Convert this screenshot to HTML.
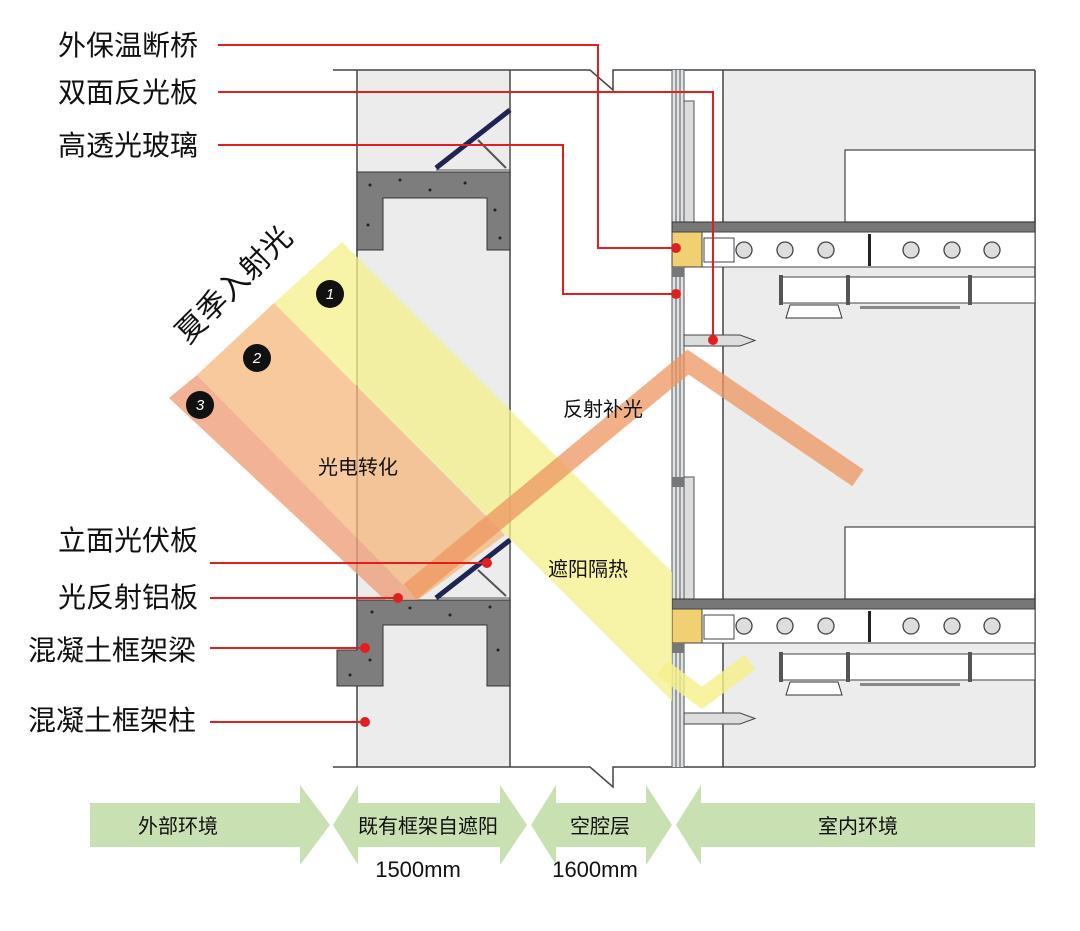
<!DOCTYPE html>
<html><head><meta charset="utf-8"><style>
body{margin:0;background:#fff}
svg text{font-family:"Liberation Sans","Noto Sans CJK SC",sans-serif}
</style></head><body>
<svg width="1080" height="926" viewBox="0 0 1080 926" xmlns="http://www.w3.org/2000/svg">
<rect x="357" y="70" width="153" height="697" fill="#ececec"/>
<rect x="723" y="70" width="312" height="697" fill="#ececec"/>
<rect x="845" y="150" width="190" height="72" fill="#fff" stroke="#444" stroke-width="1.2"/>
<rect x="845" y="527" width="190" height="72" fill="#fff" stroke="#444" stroke-width="1.2"/>
<g stroke="#444" stroke-width="1.5" fill="none">
<line x1="357" y1="70" x2="357" y2="767"/><line x1="510" y1="70" x2="510" y2="767"/>
<line x1="723" y1="70" x2="723" y2="767"/><line x1="1035" y1="70" x2="1035" y2="767"/>
<polyline points="333,70 590,70 613,90 613,70 1035,70"/>
<polyline points="333,767 590,767 613,787 613,767 1035,767"/>
</g>
<rect x="672" y="70" width="12" height="697" fill="#dfe3e6"/>
<g stroke="#555" stroke-width="1"><line x1="672" y1="70" x2="672" y2="767"/><line x1="676" y1="70" x2="676" y2="767"/><line x1="680" y1="70" x2="680" y2="767"/><line x1="684" y1="70" x2="684" y2="767"/></g>
<rect x="684" y="101" width="10" height="121" fill="#ddd" stroke="#555"/>
<rect x="684" y="477" width="10" height="122" fill="#ddd" stroke="#555"/>
<rect x="672" y="477" width="12" height="10" fill="#777"/>
<g>
<rect x="672" y="222" width="363" height="10" fill="#777" stroke="#333"/>
<rect x="672" y="232" width="363" height="35" fill="#fff" stroke="#444"/>
<rect x="672" y="232" width="30" height="35" fill="#f0d070" stroke="#444"/>
<rect x="672" y="267" width="12" height="10" fill="#777"/>
<rect x="704" y="238" width="30" height="24" fill="#fff" stroke="#444"/>
<g fill="#ddd" stroke="#444" stroke-width="1.3"><circle cx="744" cy="250" r="8"/><circle cx="785" cy="250" r="8"/><circle cx="826" cy="250" r="8"/><circle cx="911" cy="250" r="8"/><circle cx="952" cy="250" r="8"/><circle cx="992" cy="250" r="8"/></g>
<rect x="868" y="234" width="3" height="32" fill="#222"/>
<rect x="780" y="277" width="255" height="26" fill="#fff" stroke="#444"/>
<g fill="#555"><rect x="779" y="275" width="4" height="30"/><rect x="846" y="275" width="4" height="30"/><rect x="968" y="275" width="4" height="30"/></g>
<path d="M790,305 L838,305 L842,318 L786,318 Z" fill="#fff" stroke="#333"/>
<rect x="860" y="306" width="100" height="3" fill="#888"/>
</g>
<g>
<rect x="672" y="599" width="363" height="10" fill="#777" stroke="#333"/>
<rect x="672" y="609" width="363" height="34" fill="#fff" stroke="#444"/>
<rect x="672" y="609" width="30" height="34" fill="#f0d070" stroke="#444"/>
<rect x="672" y="643" width="12" height="10" fill="#777"/>
<rect x="704" y="615" width="30" height="24" fill="#fff" stroke="#444"/>
<g fill="#ddd" stroke="#444" stroke-width="1.3"><circle cx="744" cy="626" r="8"/><circle cx="785" cy="626" r="8"/><circle cx="826" cy="626" r="8"/><circle cx="911" cy="626" r="8"/><circle cx="952" cy="626" r="8"/><circle cx="992" cy="626" r="8"/></g>
<rect x="868" y="611" width="3" height="31" fill="#222"/>
<rect x="780" y="654" width="255" height="26" fill="#fff" stroke="#444"/>
<g fill="#555"><rect x="779" y="652" width="4" height="30"/><rect x="846" y="652" width="4" height="30"/><rect x="968" y="652" width="4" height="30"/></g>
<path d="M790,682 L838,682 L842,695 L786,695 Z" fill="#fff" stroke="#333"/>
<rect x="860" y="683" width="100" height="3" fill="#888"/>
</g>
<path d="M684,335 L740,335 L755,340.5 L740,346 L684,346 Z" fill="#ddd" stroke="#444"/>
<path d="M684,713 L740,713 L755,718.5 L740,724 L684,724 Z" fill="#ddd" stroke="#444"/>
<path d="M357,172 L510,172 L510,250 L487,250 L487,198 L383,198 L383,250 L357,250 Z" fill="#7d7d7d" stroke="#333"/>
<path d="M357,600 L510,600 L510,686 L487,686 L487,625 L383,625 L383,686 L337,686 L337,650 L357,650 Z" fill="#7d7d7d" stroke="#333"/>
<g fill="#222">
<circle cx="370" cy="185" r="1.5"/><circle cx="400" cy="180" r="1.5"/><circle cx="430" cy="190" r="1.5"/><circle cx="465" cy="183" r="1.5"/><circle cx="495" cy="210" r="1.5"/><circle cx="368" cy="225" r="1.5"/><circle cx="500" cy="238" r="1.5"/>
<circle cx="372" cy="612" r="1.5"/><circle cx="410" cy="608" r="1.5"/><circle cx="450" cy="615" r="1.5"/><circle cx="490" cy="607" r="1.5"/><circle cx="370" cy="660" r="1.5"/><circle cx="498" cy="650" r="1.5"/><circle cx="350" cy="675" r="1.5"/>
</g>
<path d="M510,110 L510,170 L436,170" fill="none" stroke="#555"/>
<line x1="478" y1="140" x2="506" y2="168" stroke="#555" stroke-width="2"/>
<line x1="436" y1="168" x2="510" y2="110" stroke="#1f2550" stroke-width="5"/>
<path d="M510,540 L510,598 L436,598" fill="none" stroke="#555"/>
<line x1="478" y1="570" x2="506" y2="596" stroke="#555" stroke-width="2"/>
<line x1="436" y1="598" x2="510" y2="540" stroke="#1f2550" stroke-width="5"/>
<polygon points="274,303 342,242 672,572 672,701" fill="#f5f08a" opacity="0.75"/>
<polyline points="662,668 702,698 750,662" fill="none" stroke="#f5f08a" stroke-width="18" opacity="0.8"/>
<polygon points="197,375 274,303 505,535 418,600" fill="#f4b77c" opacity="0.75"/>
<polygon points="169,398 197,375 418,600 385,600" fill="#ee9f7a" opacity="0.8"/>
<polyline points="410,592 688,362 858,478" fill="none" stroke="#ee9660" stroke-width="20" opacity="0.75"/>
<g fill="#111"><circle cx="330" cy="294" r="14"/><circle cx="257" cy="358" r="14"/><circle cx="200" cy="405" r="14"/></g>
<g fill="#fff" font-size="15" font-style="italic" text-anchor="middle"><text x="330" y="299">1</text><text x="257" y="363">2</text><text x="200" y="410">3</text></g>
<text x="0" y="0" font-size="30" fill="#111" transform="translate(188,345) rotate(-45)">夏季入射光</text>
<g font-size="20" fill="#111"><text x="318" y="474">光电转化</text><text x="563" y="416">反射补光</text><text x="548" y="576">遮阳隔热</text></g>
<g stroke="#e02020" stroke-width="2" fill="none">
<polyline points="218,45 598,45 598,248 676,248"/>
<polyline points="218,92 713,92 713,340"/>
<polyline points="218,145 563,145 563,294 676,294"/>
<polyline points="210,563 487,563"/>
<polyline points="210,598 398,598"/>
<polyline points="210,648 365,648"/>
<polyline points="210,722 365,722"/>
</g>
<g fill="#e02020"><circle cx="676" cy="248" r="5"/><circle cx="713" cy="340" r="5"/><circle cx="676" cy="294" r="5"/><circle cx="487" cy="563" r="5"/><circle cx="398" cy="598" r="5"/><circle cx="365" cy="648" r="5"/><circle cx="365" cy="722" r="5"/></g>
<g font-size="28" fill="#111">
<text x="58" y="55">外保温断桥</text><text x="58" y="102">双面反光板</text><text x="58" y="155">高透光玻璃</text>
<text x="58" y="550">立面光伏板</text><text x="58" y="607">光反射铝板</text><text x="28" y="660">混凝土框架梁</text><text x="28" y="730">混凝土框架柱</text>
</g>
<g fill="#c9e0b3">
<polygon points="90,803 300,803 300,785 330,825 300,865 300,847 90,847"/>
<polygon points="333,825 358,785 358,803 500,803 500,785 527,825 500,865 500,847 358,847 358,865"/>
<polygon points="531,825 556,785 556,803 646,803 646,785 672,825 646,865 646,847 556,847 556,865"/>
<polygon points="676,825 701,785 701,803 1035,803 1035,847 701,847 701,865"/>
</g>
<g font-size="20" fill="#111" text-anchor="middle">
<text x="178" y="833">外部环境</text><text x="428" y="833">既有框架自遮阳</text><text x="600" y="833">空腔层</text><text x="858" y="833">室内环境</text>
<text x="418" y="877" font-size="22">1500mm</text><text x="595" y="877" font-size="22">1600mm</text>
</g>
</svg>
</body></html>
